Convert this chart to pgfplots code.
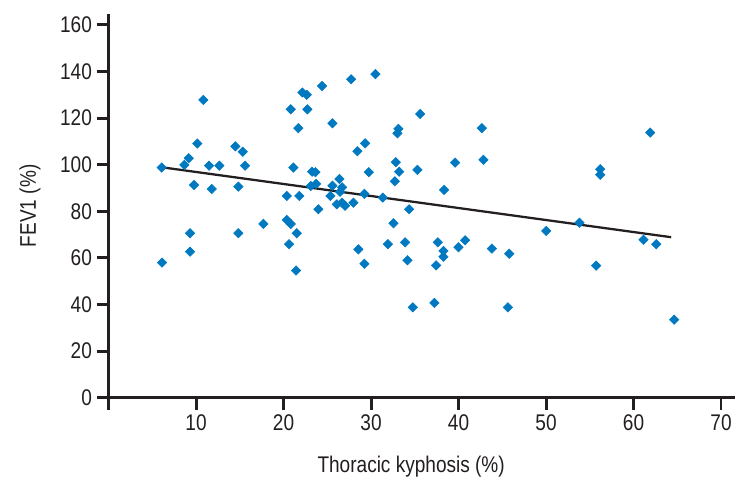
\documentclass[border=0pt]{standalone}
\usepackage{fontspec}
\setmainfont{Liberation Sans}[FakeStretch=0.84]
\usepackage{pgfplots}
\usepackage{pgfplotstable}
\pgfplotsset{compat=1.18}
\definecolor{ptblue}{RGB}{0,121,193}
\definecolor{ink}{RGB}{35,31,32}

% thoracic kyphosis (%) vs FEV1 (%)
\pgfplotstableread{
x y
10.83 127.8
6.07 98.8
6.11 58.0
8.66 99.9
9.16 102.8
10.14 109.1
9.77 91.3
11.48 99.6
11.79 89.6
12.66 99.6
9.31 70.6
9.31 62.7
14.49 107.9
15.33 105.6
15.60 99.6
14.83 90.6
14.83 70.6
17.69 74.6
20.82 123.8
21.69 115.7
21.12 98.8
20.37 86.6
21.80 86.6
20.37 76.3
20.82 74.6
21.51 70.6
20.63 65.9
21.43 54.6
23.98 80.9
22.15 131.0
22.65 130.0
24.40 133.8
27.72 136.7
30.50 138.9
22.72 123.8
25.58 117.8
35.61 121.8
33.13 115.4
33.01 113.5
29.32 109.2
28.44 105.8
23.26 97.0
23.64 96.8
29.74 96.8
32.83 101.1
33.21 97.0
35.30 97.8
39.61 100.9
26.38 93.9
32.72 92.9
23.11 90.9
23.72 91.8
25.58 91.0
26.69 90.3
25.35 86.6
26.46 88.4
29.24 87.5
31.34 85.9
38.35 89.2
26.08 83.0
26.69 83.7
27.03 82.4
27.98 83.7
34.35 80.9
32.56 74.9
28.55 63.7
29.24 57.5
31.92 65.9
33.89 66.7
34.16 59.0
37.63 66.7
38.27 63.0
38.27 60.5
37.44 56.8
39.99 64.6
40.75 67.6
43.81 64.0
34.77 38.8
37.24 40.7
42.66 115.7
42.85 102.1
61.91 113.8
56.19 98.1
56.19 95.7
50.02 71.6
53.82 75.1
61.14 67.8
62.60 65.9
45.79 61.8
55.73 56.7
45.64 38.8
64.65 33.5
}\fevdata

\begin{document}
\begin{tikzpicture}
\path[use as bounding box] (-81.45pt,-67.7pt) rectangle (479.55pt,298.3pt);
\begin{axis}[
  scale only axis,
  width=469.8pt, height=287.8pt,
  xmin=0, xmax=71.6,
  ymin=0, ymax=164.7,
  axis lines=left,
  axis line style={-, line width=2pt, ink},
  tick align=outside,
  major tick length=9pt,
  tick style={line width=2.2pt, ink},
  xtick={0,10,...,70},
  xticklabels={{},10,20,30,40,50,60,70},
  ytick={0,20,...,160},
  tick label style={font=\fontsize{17}{20}\selectfont, text=ink},
  /pgf/number format/assume math mode=true,
  label style={font=\fontsize{17}{20}\selectfont, text=ink},
  xlabel={Thoracic kyphosis (\%)},
  ylabel={FEV1 (\%)},
  xlabel style={at={(axis description cs:0.483,-0.196)}, anchor=base},
  ylabel style={at={(axis description cs:-0.1255,0.5)}, anchor=center},
  clip=false,
]
\addplot[only marks, mark=square*, mark size=2.5pt,
  mark options={rotate=45, fill=ptblue, draw=ptblue}] table[x=x, y=y] {\fevdata};
\addplot[ink, line width=1.7pt] coordinates {(6.3,98.8) (64.3,68.9)};
\end{axis}
\end{tikzpicture}
\end{document}
